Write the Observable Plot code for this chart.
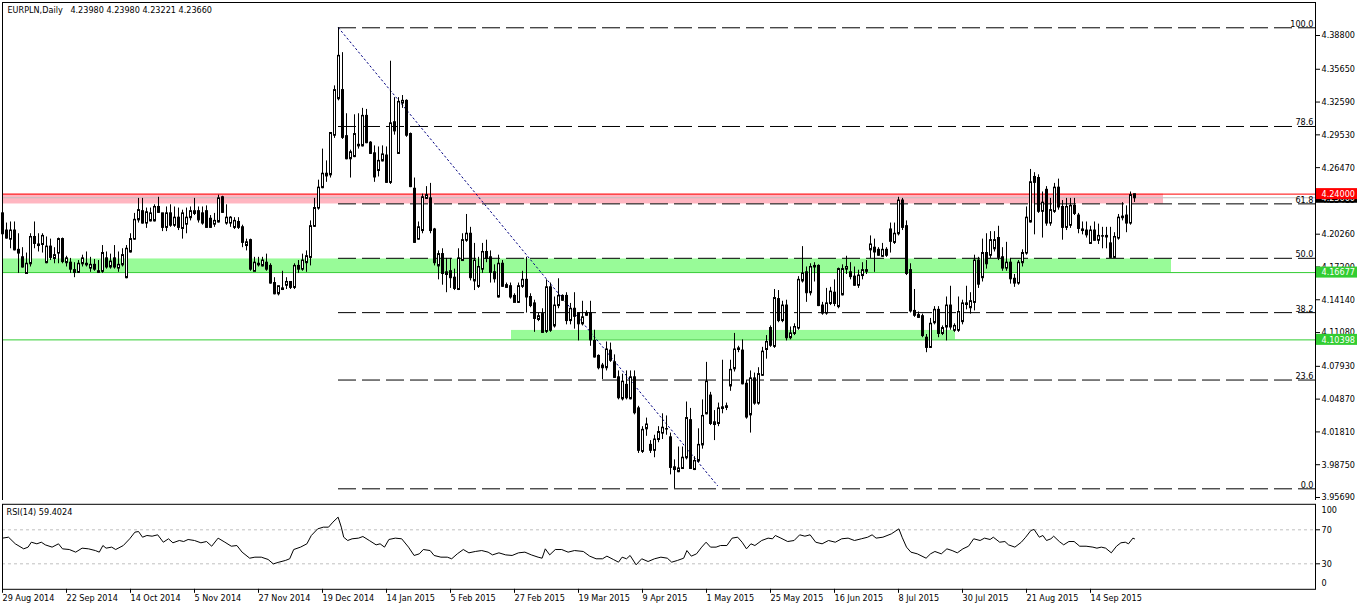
<!DOCTYPE html>
<html><head><meta charset="utf-8">
<script src="https://cdn.jsdelivr.net/npm/d3@7"></script>
<script src="https://cdn.jsdelivr.net/npm/@observablehq/plot@0.6"></script>
<style>
html,body{margin:0;padding:0;background:#fff;}
#wrap{position:relative;width:1358px;height:606px;overflow:hidden;background:#fff;}
#main{position:absolute;left:0;top:0;}
#rsi{position:absolute;left:0;top:500px;}
</style></head><body><div id="wrap"><div id="main"></div><div id="rsi"></div></div>
<script>
// ---------- DATA ----------
const chartTitle = "EURPLN,Daily\u00a0\u00a0 4.23980 4.23980 4.23221 4.23660";
const rsiTitle = "RSI(14) 59.4024";

const open = [
4.222,4.206,4.198,4.206,4.188,4.181,4.166,4.175,4.200,4.193,
4.193,4.176,4.191,4.180,4.185,4.198,4.176,4.176,4.169,4.167,
4.175,4.174,4.171,4.174,4.168,4.168,4.180,4.172,4.180,4.171,
4.174,4.162,4.186,4.198,4.216,4.224,4.213,4.215,4.215,4.228,
4.222,4.209,4.222,4.211,4.218,4.208,4.212,4.218,4.222,4.224,
4.222,4.224,4.217,4.212,4.214,4.237,4.213,4.213,4.209,4.214,
4.209,4.192,4.197,4.168,4.175,4.173,4.176,4.173,4.157,4.147,
4.151,4.155,4.158,4.153,4.173,4.170,4.176,4.181,4.210,4.227,
4.246,4.257,4.258,4.295,4.329,4.337,4.294,4.273,4.275,4.285,
4.285,4.313,4.288,4.278,4.262,4.271,4.276,4.251,4.307,4.278,
4.325,4.327,4.296,4.245,4.198,4.206,4.236,4.236,4.207,4.173,
4.184,4.165,4.168,4.162,4.151,4.178,4.197,4.203,4.159,4.154,
4.170,4.186,4.181,4.167,4.144,4.175,4.155,4.154,4.145,4.139,
4.154,4.160,4.144,4.138,4.123,4.128,4.112,4.153,4.117,4.136,
4.145,4.145,4.122,4.133,4.129,4.119,4.127,4.129,4.103,4.089,
4.080,4.078,4.094,4.083,4.069,4.049,4.062,4.049,4.069,4.040,
4.000,4.021,4.006,4.001,4.011,4.017,4.021,4.013,3.985,3.981,
3.984,3.994,4.029,3.983,3.991,4.006,4.035,4.052,4.027,4.026,
4.040,4.041,4.061,4.077,4.095,4.094,4.063,4.034,4.068,4.045,
4.071,4.095,4.115,4.098,4.142,4.122,4.136,4.106,4.110,4.115,
4.159,4.167,4.148,4.172,4.173,4.136,4.129,4.138,4.148,4.135,
4.146,4.170,4.167,4.163,4.155,4.164,4.169,4.188,4.190,4.188,
4.182,4.188,4.207,4.195,4.203,4.234,4.210,4.169,4.131,4.127,
4.126,4.106,4.097,4.120,4.132,4.110,4.116,4.136,4.113,4.113,
4.121,4.138,4.134,4.139,4.178,4.162,4.185,4.183,4.189,4.199,
4.181,4.171,4.176,4.161,4.157,4.176,4.185,4.214,4.256,4.255,
4.224,4.244,4.213,4.224,4.246,4.228,4.209,4.211,4.229,4.220,
4.207,4.206,4.194,4.206,4.197,4.201,4.201,4.194,4.181,4.199,
4.218,4.220,4.213,4.2398];
const high = [
4.231,4.213,4.214,4.214,4.203,4.190,4.185,4.203,4.214,4.203,
4.203,4.200,4.198,4.190,4.199,4.199,4.182,4.180,4.176,4.178,
4.183,4.186,4.181,4.179,4.178,4.192,4.186,4.184,4.192,4.186,
4.189,4.192,4.203,4.222,4.236,4.236,4.227,4.227,4.230,4.237,
4.222,4.228,4.230,4.228,4.227,4.225,4.227,4.228,4.236,4.228,
4.228,4.229,4.220,4.222,4.239,4.238,4.230,4.219,4.218,4.218,
4.211,4.198,4.198,4.181,4.181,4.181,4.184,4.175,4.162,4.154,
4.168,4.162,4.158,4.175,4.178,4.184,4.187,4.215,4.236,4.253,
4.282,4.271,4.297,4.341,4.3952,4.372,4.315,4.281,4.314,4.315,
4.320,4.319,4.289,4.285,4.284,4.285,4.284,4.364,4.330,4.330,
4.332,4.328,4.297,4.255,4.214,4.240,4.247,4.250,4.208,4.187,
4.189,4.180,4.180,4.170,4.189,4.203,4.221,4.209,4.194,4.181,
4.194,4.197,4.187,4.174,4.183,4.178,4.157,4.157,4.147,4.157,
4.168,4.181,4.147,4.141,4.129,4.133,4.160,4.157,4.144,4.161,
4.146,4.148,4.138,4.148,4.129,4.140,4.131,4.140,4.113,4.090,
4.082,4.102,4.101,4.090,4.075,4.072,4.075,4.075,4.075,4.042,
4.023,4.031,4.010,4.015,4.023,4.035,4.033,4.017,3.992,4.004,
4.004,4.046,4.040,3.995,4.021,4.048,4.083,4.055,4.038,4.045,
4.085,4.045,4.085,4.110,4.098,4.104,4.066,4.075,4.073,4.078,
4.097,4.108,4.117,4.151,4.150,4.140,4.141,4.116,4.119,4.163,
4.191,4.172,4.175,4.176,4.174,4.139,4.152,4.153,4.160,4.171,
4.174,4.182,4.176,4.172,4.169,4.176,4.178,4.201,4.198,4.190,
4.194,4.190,4.213,4.213,4.237,4.236,4.215,4.175,4.151,4.130,
4.128,4.109,4.124,4.135,4.135,4.117,4.144,4.154,4.119,4.144,
4.141,4.154,4.148,4.183,4.181,4.198,4.203,4.205,4.205,4.210,
4.190,4.195,4.180,4.165,4.178,4.188,4.228,4.263,4.260,4.258,
4.242,4.247,4.236,4.250,4.254,4.234,4.236,4.236,4.236,4.222,
4.214,4.214,4.210,4.214,4.212,4.209,4.209,4.209,4.204,4.221,
4.232,4.229,4.242,4.2398];
const low = [
4.201,4.198,4.189,4.187,4.166,4.171,4.166,4.172,4.189,4.186,
4.185,4.175,4.178,4.175,4.175,4.175,4.172,4.166,4.162,4.166,
4.172,4.172,4.167,4.168,4.166,4.166,4.170,4.170,4.170,4.167,
4.172,4.161,4.185,4.197,4.213,4.212,4.208,4.214,4.214,4.222,
4.205,4.205,4.209,4.209,4.206,4.198,4.203,4.215,4.220,4.213,
4.211,4.208,4.208,4.209,4.213,4.222,4.211,4.209,4.207,4.207,
4.190,4.187,4.168,4.168,4.172,4.172,4.168,4.156,4.146,4.145,
4.150,4.151,4.151,4.151,4.166,4.168,4.167,4.173,4.209,4.225,
4.245,4.251,4.255,4.292,4.327,4.291,4.272,4.255,4.274,4.282,
4.284,4.287,4.277,4.251,4.256,4.270,4.250,4.249,4.295,4.277,
4.320,4.293,4.246,4.194,4.197,4.203,4.235,4.203,4.173,4.160,
4.155,4.148,4.152,4.150,4.150,4.178,4.195,4.159,4.150,4.152,
4.166,4.176,4.157,4.157,4.143,4.153,4.152,4.142,4.139,4.138,
4.152,4.129,4.134,4.111,4.121,4.110,4.110,4.111,4.115,4.133,
4.140,4.118,4.118,4.114,4.103,4.117,4.126,4.098,4.087,4.076,
4.067,4.075,4.083,4.068,4.048,4.047,4.048,4.048,4.034,3.998,
3.998,4.014,3.998,3.994,4.008,4.011,4.015,3.978,3.965,3.980,
3.983,3.992,3.983,3.982,3.989,4.002,4.034,4.024,4.010,4.023,
4.035,4.038,4.056,4.074,4.092,4.062,4.030,4.017,4.043,4.043,
4.070,4.086,4.097,4.096,4.120,4.120,4.103,4.104,4.108,4.113,
4.157,4.139,4.145,4.158,4.135,4.127,4.127,4.136,4.135,4.133,
4.145,4.165,4.160,4.154,4.152,4.160,4.165,4.180,4.167,4.182,
4.181,4.181,4.185,4.193,4.201,4.206,4.164,4.129,4.125,4.124,
4.106,4.092,4.096,4.118,4.106,4.108,4.103,4.113,4.111,4.111,
4.118,4.132,4.128,4.131,4.152,4.158,4.170,4.180,4.186,4.178,
4.168,4.168,4.156,4.153,4.155,4.172,4.183,4.213,4.202,4.222,
4.199,4.210,4.210,4.222,4.225,4.197,4.206,4.208,4.220,4.203,
4.202,4.199,4.193,4.196,4.193,4.189,4.189,4.180,4.180,4.197,
4.215,4.204,4.211,4.23221];
const close = [
4.203,4.199,4.206,4.188,4.185,4.172,4.175,4.200,4.194,4.192,
4.201,4.191,4.181,4.183,4.198,4.177,4.180,4.170,4.167,4.175,
4.180,4.175,4.174,4.170,4.167,4.185,4.172,4.177,4.172,4.174,
4.183,4.189,4.198,4.216,4.225,4.213,4.223,4.222,4.228,4.223,
4.209,4.222,4.211,4.218,4.209,4.222,4.218,4.224,4.224,4.216,
4.213,4.209,4.209,4.215,4.236,4.223,4.218,4.218,4.215,4.209,
4.195,4.195,4.170,4.176,4.174,4.178,4.170,4.157,4.147,4.154,
4.152,4.158,4.153,4.173,4.170,4.178,4.182,4.210,4.227,4.246,
4.259,4.259,4.297,4.337,4.369,4.293,4.273,4.279,4.296,4.286,
4.313,4.288,4.278,4.256,4.271,4.277,4.251,4.306,4.299,4.326,
4.327,4.295,4.247,4.195,4.209,4.237,4.239,4.206,4.176,4.184,
4.166,4.167,4.162,4.152,4.180,4.197,4.203,4.162,4.178,4.172,
4.186,4.180,4.167,4.161,4.175,4.154,4.153,4.144,4.139,4.154,
4.160,4.144,4.136,4.124,4.126,4.111,4.153,4.113,4.136,4.145,
4.141,4.122,4.133,4.126,4.119,4.125,4.129,4.104,4.088,4.078,
4.078,4.095,4.085,4.069,4.050,4.065,4.050,4.069,4.036,4.001,
4.020,4.025,4.001,4.011,4.018,4.022,4.021,3.985,3.983,3.984,
3.994,4.031,3.984,3.991,4.006,4.033,4.065,4.026,4.025,4.040,
4.041,4.042,4.076,4.095,4.096,4.063,4.032,4.068,4.045,4.072,
4.093,4.102,4.099,4.143,4.122,4.136,4.106,4.110,4.116,4.160,
4.166,4.148,4.172,4.173,4.136,4.129,4.138,4.149,4.138,4.170,
4.170,4.172,4.163,4.155,4.164,4.169,4.168,4.193,4.186,4.183,
4.188,4.183,4.196,4.203,4.234,4.209,4.166,4.131,4.127,4.125,
4.108,4.097,4.119,4.132,4.110,4.115,4.136,4.116,4.117,4.130,
4.138,4.137,4.140,4.178,4.156,4.185,4.175,4.197,4.197,4.181,
4.171,4.176,4.161,4.157,4.176,4.185,4.218,4.251,4.251,4.224,
4.232,4.213,4.225,4.246,4.228,4.209,4.228,4.229,4.222,4.208,
4.206,4.202,4.206,4.197,4.201,4.201,4.200,4.181,4.200,4.218,
4.219,4.213,4.239,4.2366];

// RSI(14) readings: bar position and value
const rsiBar = [0,1.5,3.2,5.3,6.4,7.2,8.6,9.7,10.7,12.4,14,15,16.7,18.3,19.9,21.5,23.2,24.2,25.1,25.9,27.3,28.3,30.2,31.8,33.1,34,35,36.1,37.4,38.8,40.2,41.5,42.6,44.2,45.3,46.4,48,49.6,51,52.3,53.9,55.6,57.2,58.6,59.9,61.8,63.1,64.7,66.4,67.7,69.1,70.7,71.8,72.8,74.5,76.1,77.2,78.8,80.2,81.5,82.6,83.9,84.7,85.3,86.3,87.4,89,90.1,91.7,93.4,94.4,95.5,96.6,98.2,99.8,101.5,102.9,104.2,105.2,106.9,107.9,109.6,111.2,112.3,113.7,115.2,116.6,118.2,119.8,121.4,122.5,124.1,125.8,127.4,129,130.6,132.2,133.9,134.9,135.7,136.8,138.2,139.8,141.4,143,145.2,146.8,148.4,150,151.1,152.7,154,154.9,156,156.9,158.4,159.8,161.4,163,164.6,166.2,167.3,168.7,
170.3,171.1,172.2,173.5,174.8,175.9,177,178.4,179.5,181.1,182.4,183.8,184.9,186,187.1,188.1,189.8,191.4,192.5,193.2,194.6,196.3,197.9,199.3,200.6,201.9,203.3,204.9,206.5,208.2,209.8,211.4,213,214.7,216.3,217.4,218.4,220.1,222.2,224.1,224.9,226,227.1,228.7,230.9,232,233.1,234.7,236.1,237.4,238.7,240.1,241.5,242.8,244.4,245.5,246.9,247.7,249.3,250.6,251.5,253.1,254.7,255.8,257.1,257.9,259.2,260.1,261,262.1,262.8,264.2,265.3,266.6,267.9,269.3,270.9,272.6,273.6,274.7,275.8,277.2,278.5,279.6,280.7,281.5,282.6,283];
const rsiVal = [60.2,61.3,53.5,47.6,49.6,55.4,53.5,55.4,52.3,49.6,53.5,47.6,46.8,43.7,48.4,47.6,45.6,43.7,51.5,48.4,49.6,46.8,51.5,59.4,67.2,68.0,61.3,63.3,62.5,64.1,55.4,59.4,54.7,57.4,56.2,58.6,57.4,54.7,56.2,50.7,60.2,55.4,50.7,51.5,43.7,36.6,37.8,37.8,35.1,29.9,31.9,33.9,35.9,46.8,49.6,53.5,63.3,71.1,73.1,73.1,79.0,84.9,73.1,61.3,57.4,59.4,60.2,62.1,57.4,52.3,53.5,49.6,58.6,60.2,59.4,49.6,39.8,41.7,46.8,45.6,39.8,37.8,37.8,35.9,41.7,46.8,42.9,44.5,45.6,43.7,40.5,42.9,40.5,39.8,42.9,43.7,40.5,37.8,36.6,47.6,40.5,46.8,46.8,43.7,45.6,44.5,39.0,35.9,35.9,39.0,35.1,31.9,37.8,35.9,39.8,28.8,35.9,32.7,35.9,37.8,36.6,31.9,33.9,
36.6,45.6,39.0,41.7,49.6,55.4,49.6,49.6,51.5,51.5,60.2,61.3,55.4,47.6,53.5,51.5,57.4,60.2,59.4,63.3,60.2,56.2,57.4,64.1,62.5,64.1,55.4,53.5,57.4,55.4,59.4,60.2,57.4,59.4,61.3,64.1,60.2,61.3,65.2,71.1,61.3,49.6,43.7,41.7,36.6,41.7,44.5,41.7,47.6,45.6,42.9,47.6,50.7,59.4,57.4,60.2,58.6,61.3,55.4,56.2,52.3,49.6,55.4,61.3,69.2,70.4,61.3,63.3,57.4,59.4,62.5,56.2,52.3,56.2,56.2,50.7,50.7,49.6,48.4,49.6,48.4,42.9,50.7,54.7,55.4,53.5,60.2,59.4];
const rsiLevels = [30, 70];
const rsiTickLabels = [0, 30, 70, 100];

const priceTicks = [4.388,4.3565,4.3259,4.2953,4.2647,4.2341,4.2026,4.172,4.1414,4.1108,4.0793,4.0487,4.0181,3.9875,3.9569];

const dateIdx = [0,16,32,48,64,80,96,112,128,144,160,176,192,208,224,240,256,272];
const dateLabels = ["29 Aug 2014","22 Sep 2014","14 Oct 2014","5 Nov 2014","27 Nov 2014","19 Dec 2014","14 Jan 2015","5 Feb 2015","27 Feb 2015","19 Mar 2015","9 Apr 2015","1 May 2015","25 May 2015","16 Jun 2015","8 Jul 2015","30 Jul 2015","21 Aug 2015","14 Sep 2015"];

// Fibonacci retracement (levels)
const fibPct = ["0.0","23.6","38.2","50.0","61.8","78.6","100.0"];
const fibPrice = [3.9650,4.0665,4.1294,4.1801,4.2309,4.3031,4.3952];
const fibStartBar = 84;
const trendBars = [84, 178.75];
const trendPrices = [4.3952, 3.9680];

// Zones
const zoneTop = [4.2400, 4.1795, 4.1128];
const zoneBottom = [4.2308, 4.16677, 4.10398];
const zoneStart = [0, 0, 127.25];
const zoneEnd = [290.25, 292.25, 238.25];
const zoneColor = ["#ffb6c1", "#98fb98", "#98fb98"];

// Horizontal lines
const lineLevels = [4.2366, 4.2400, 4.16677, 4.10398];
const lineColors = ["#c0c0c0", "#ff0000", "#32cd32", "#32cd32"];
// Price tags on the axis (drawn in this order)
const tagLevels = [4.2366, 4.2400, 4.16677, 4.10398];
const tagColors = ["#000000", "#ff0000", "#32cd32", "#32cd32"];

// ---------- BUILD ----------
const FONT = '"DejaVu Sans Condensed","Liberation Sans",sans-serif';
const xDomain = [0, 328.25];
const candles = open.map((o, i) => ({i, o, h: high[i], l: low[i], c: close[i]}));
const upC = candles.filter(d => d.c >= d.o);
const dnC = candles.filter(d => d.c < d.o);
const zones = zoneTop.map((t, k) => ({t, b: zoneBottom[k], s: zoneStart[k], e: zoneEnd[k], col: zoneColor[k]}));
const fibs = fibPrice.map((p, k) => ({p, lab: fibPct[k]}));
const trend = trendBars.map((b, k) => ({b, p: trendPrices[k]}));
const lines = lineLevels.map((v, k) => ({v, col: lineColors[k]}));
const tags = tagLevels.map((v, k) => ({v, col: tagColors[k]}));
const rsiPts = rsiBar.map((b, k) => ({b, v: rsiVal[k]}));

const tagMarks = tags.flatMap(t => [
  Plot.rect([t], {x1: xDomain[1], x2: xDomain[1], y1: "v", y2: "v", fill: t.col,
    insetLeft: 1, insetRight: -42, insetTop: -5.5, insetBottom: -5.5}),
  Plot.text([t], {x: xDomain[1], y: "v", text: d => d.v.toFixed(5), fill: "white", textAnchor: "start", dx: 6})
]);

// bodies: 3px wide, outline on pixel centres
const bodyOpts = {x1: d => d.i - 0.25, x2: d => d.i + 0.25, y1: "o", y2: "c", stroke: "black", strokeWidth: 1, dx: 0.5};
const tickOpts = {x1: d => d.i - 0.375, x2: d => d.i + 0.375, stroke: "black", strokeWidth: 1, dx: 0.5};

const main = Plot.plot({
  width: 1358, height: 502,
  marginLeft: 2, marginRight: 43, marginTop: 2, marginBottom: 2,
  x: {domain: xDomain, axis: null},
  y: {domain: [3.9541, 4.4188]},
  style: {fontFamily: FONT, fontSize: "9px", color: "black", background: "white", overflow: "visible"},
  marks: [
    Plot.rect(zones, {x1: "s", x2: "e", y1: "b", y2: "t", fill: "col"}),
    Plot.ruleY(fibs, {y: "p", x1: fibStartBar, x2: xDomain[1], stroke: "black", strokeWidth: 1, strokeDasharray: "18,6"}),
    Plot.ruleY(lines, {y: "v", x1: xDomain[0], x2: xDomain[1], stroke: "col", strokeWidth: 1}),
    Plot.line(trend, {x: "b", y: "p", stroke: "#000080", strokeWidth: 1, strokeDasharray: "1.5,3"}),
    Plot.ruleX(candles, {x: "i", y1: "l", y2: "h", stroke: "black", strokeWidth: 1}),
    Plot.rect(upC, {...bodyOpts, fill: "white"}),
    Plot.rect(dnC, {...bodyOpts, fill: "black"}),
    Plot.ruleY(candles, {y: "o", ...tickOpts}),
    Plot.ruleY(candles, {y: "c", ...tickOpts}),
    Plot.text(fibs, {x: xDomain[1], y: "p", text: "lab", textAnchor: "end", lineAnchor: "bottom", dx: -2, dy: -1, fill: "black"}),
    Plot.text([chartTitle], {frameAnchor: "top-left", dx: 5, dy: 4, lineAnchor: "top", textAnchor: "start", fill: "black"}),
    Plot.axisY({ticks: priceTicks, anchor: "right", tickSize: 4, tickPadding: 2, tickFormat: d => d.toFixed(5), label: null}),
    ...tagMarks,
    Plot.frame({stroke: "black"})
  ]
});
document.getElementById("main").appendChild(main);

const rsi = Plot.plot({
  width: 1358, height: 106,
  marginLeft: 2, marginRight: 43, marginTop: 3.8, marginBottom: 17.2,
  x: {domain: xDomain},
  y: {domain: [0, 100]},
  style: {fontFamily: FONT, fontSize: "9px", color: "black", background: "white", overflow: "visible"},
  marks: [
    Plot.ruleY(rsiLevels, {stroke: "#c0c0c0", strokeDasharray: "3,3"}),
    Plot.line(rsiPts, {x: "b", y: "v", stroke: "black", strokeWidth: 1}),
    Plot.axisY({ticks: rsiTickLabels.filter(v => v > 0 && v < 100), anchor: "right", tickSize: 4, tickPadding: 2, label: null}),
    Plot.axisY({ticks: rsiTickLabels.filter(v => v === 100), anchor: "right", tickSize: 0, tickPadding: 6, dy: 6, label: null}),
    Plot.axisY({ticks: rsiTickLabels.filter(v => v === 0), anchor: "right", tickSize: 0, tickPadding: 6, dy: -6, label: null}),
    Plot.axisX({ticks: dateIdx, anchor: "bottom", tickSize: 4, tickPadding: 1, textAnchor: "start",
      tickFormat: d => dateLabels[dateIdx.indexOf(d)], label: null}),
    Plot.text([rsiTitle], {frameAnchor: "top-left", dx: 4, dy: 4, lineAnchor: "top", textAnchor: "start", fill: "black"}),
    Plot.frame({stroke: "black"})
  ]
});
document.getElementById("rsi").appendChild(rsi);
</script></body></html>
